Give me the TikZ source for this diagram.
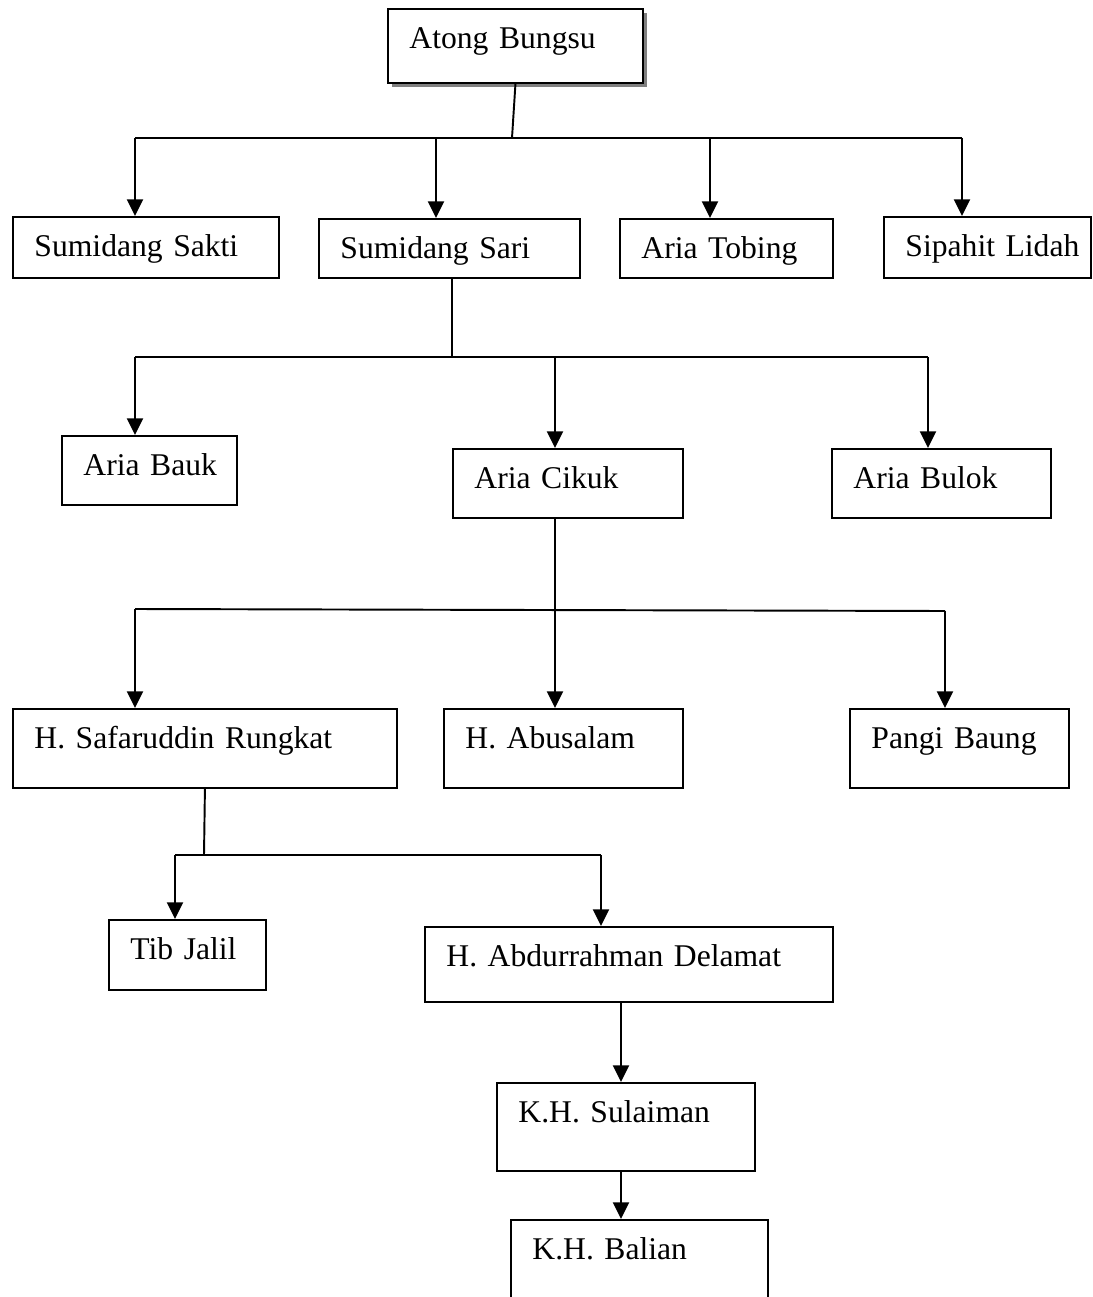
\documentclass[tikz,border=0pt]{standalone}
\usepackage{fontspec}
\setmainfont{Liberation Serif}
\usetikzlibrary{arrows.meta,shadows}

\begin{document}
\begin{tikzpicture}[x=0.02cm, y=-0.02cm,
	box/.style={draw, line width=1.1pt, anchor=north west, align=left, inner xsep=0.43cm, inner ysep=0pt, text height=0.8cm, font=\fontsize{18}{21}\selectfont, execute at begin node={\hbox\bgroup}, execute at end node={\egroup}},
	link/.style={line width=1.1pt},
	arr/.style={-{Triangle[length=9.5pt,width=9pt]}, line width=1.6pt}]
	\useasboundingbox (0,0) rectangle (1092,1297);
	\clip (0,0) rectangle (1092,1297);
	\node[box, fill=white, drop shadow={shadow xshift=2.4pt, shadow yshift=-2.4pt, fill=gray, opacity=1}, text width=4.24cm, text depth=0.68cm] (atong) at (387,8) {Atong Bungsu};
	\node[box, text width=4.46cm, text depth=0.42cm] (sakti) at (12,216) {Sumidang Sakti};
	\node[box, text width=4.36cm, text depth=0.38cm] (sari) at (318,218) {Sumidang Sari};
	\node[box, text width=3.40cm, text depth=0.38cm] (tobing) at (619,218) {Aria Tobing};
	\node[box, text width=3.28cm, text depth=0.42cm] (sipahit) at (883,216) {Sipahit Lidah};
	\node[box, text width=2.64cm, text depth=0.58cm] (bauk) at (61,435) {Aria Bauk};
	\node[box, text width=3.74cm, text depth=0.58cm] (cikuk) at (452,448) {Aria Cikuk};
	\node[box, text width=3.52cm, text depth=0.58cm] (bulok) at (831,448) {Aria Bulok};
	\node[box, text width=6.82cm, text depth=0.78cm] (safar) at (12,708) {H. Safaruddin Rungkat};
	\node[box, text width=3.92cm, text depth=0.78cm] (abusalam) at (443,708) {H. Abusalam};
	\node[box, text width=3.52cm, text depth=0.78cm] (pangi) at (849,708) {Pangi Baung};
	\node[box, text width=2.28cm, text depth=0.60cm] (tib) at (108,919) {Tib Jalil};
	\node[box, text width=7.30cm, text depth=0.70cm] (abdur) at (424,926) {H. Abdurrahman Delamat};
	\node[box, text width=4.30cm, text depth=0.96cm] (sulaiman) at (496,1082) {K.H. Sulaiman};
	\node[box, text width=4.28cm, text depth=1.20cm] (balian) at (510,1219) {K.H. Balian};
	% first level
	\coordinate (j1) at (512,138);
	\coordinate (t1) at (135,138);
	\coordinate (t2) at (436,138);
	\coordinate (t3) at (710,138);
	\coordinate (t4) at (962,138);
	\draw[link] (atong.south) -- (j1);
	\draw[link] (t1) -- (t4);
	\draw[arr] (t1) -- (t1 |- sakti.north);
	\draw[arr] (t2) -- (t2 |- sari.north);
	\draw[arr] (t3) -- (t3 |- tobing.north);
	\draw[arr] (t4) -- (t4 |- sipahit.north);
	% second level
	\coordinate (j2) at (452,357);
	\coordinate (u1) at (135,357);
	\coordinate (u2) at (555,357);
	\coordinate (u3) at (928,357);
	\draw[link] (j2 |- sari.south) -- (j2);
	\draw[link] (u1) -- (u3);
	\draw[arr] (u1) -- (u1 |- bauk.north);
	\draw[arr] (u2) -- (u2 |- cikuk.north);
	\draw[arr] (u3) -- (u3 |- bulok.north);
	% third level
	\coordinate (v1) at (135,609);
	\coordinate (v2) at (555,610);
	\coordinate (v3) at (945,611);
	\draw[link] (v2 |- cikuk.south) -- (v2);
	\draw[link] (v1) -- (v3);
	\draw[arr] (v1) -- (v1 |- safar.north);
	\draw[arr] (v2) -- (v2 |- abusalam.north);
	\draw[arr] (v3) -- (v3 |- pangi.north);
	% fourth level
	\coordinate (j4) at (204,855);
	\coordinate (w1) at (175,855);
	\coordinate (w2) at (601,855);
	\draw[link] (safar.south) -- (j4);
	\draw[link] (w1) -- (w2);
	\draw[arr] (w1) -- (w1 |- tib.north);
	\draw[arr] (w2) -- (w2 |- abdur.north);
	% last ones
	\coordinate (k5) at (621,1040);
	\draw[arr] (k5 |- abdur.south) -- (k5 |- sulaiman.north);
	\draw[arr] (k5 |- sulaiman.south) -- (k5 |- balian.north);
\end{tikzpicture}
\end{document}
